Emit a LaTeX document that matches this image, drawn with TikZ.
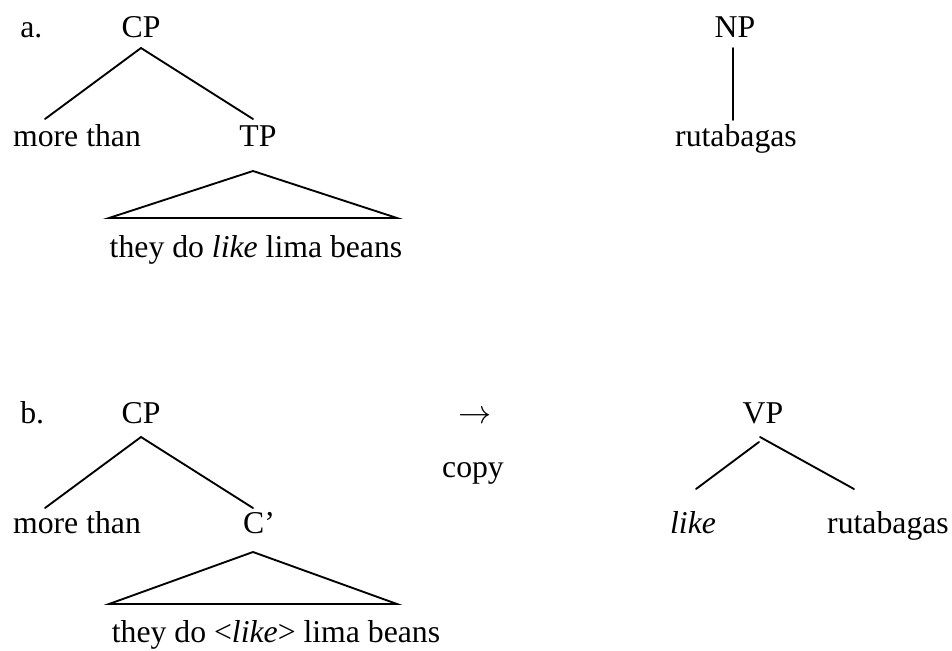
\documentclass[tikz,border=0pt]{standalone}
\usepackage{fontspec}
\setmainfont{Liberation Serif}
\usepackage{tikz}
\tikzset{
	wrd/.style={inner sep=0pt,anchor=base,font=\fontsize{23.8}{28}\selectfont},
	lbl/.style={inner sep=0pt,anchor=base west,font=\fontsize{23.8}{28}\selectfont},
	branch/.style={line width=1.4pt,line cap=round,line join=miter},
	}

\begin{document}
\begin{tikzpicture}[x=0.75pt,y=-0.75pt]
\useasboundingbox (0,0) rectangle (952,650);

% (a)
\node (la) at (20,37) [lbl] {a.};
\node (cpa) at (141,37) [wrd] {CP};
\node (mta) at (77,146) [wrd] {more than};
\node (tp) at (258,146) [wrd] {TP};
\node (sa) at (256,257) [wrd] {they do \textit{like} lima beans};
\node (np) at (735,37) [wrd] {NP};
\node (ruta) at (736,146) [wrd] {rutabagas};

\coordinate (cpaT) at (141,48);
\coordinate (mtaT) at (45,119);
\coordinate (tpT) at (253,119);
\coordinate (tpB) at (253,171);
\coordinate (saL) at (109,218);
\coordinate (saR) at (397,218);
\coordinate (npB) at (733,48);
\coordinate (rutaT) at (733,120);

\draw[branch] (mtaT) -- (cpaT) -- (tpT);
\draw[branch] (tpB) -- (saL) -- (saR) -- cycle;
\draw[branch] (npB) -- (rutaT);

% (b)
\node (lb) at (20,423) [lbl] {b.};
\node (cpb) at (141,423) [wrd] {CP};
\node (mtb) at (77,533) [wrd] {more than};
\node (cbar) at (259,533) [wrd] {C’};
\node (sb) at (276,642) [wrd] {they do <\textit{like}> lima beans};
\node (arr) at (475,423) [wrd] {$\rightarrow$};
\node (copy) at (473,477) [wrd] {copy};
\node (vp) at (763,423) [wrd] {VP};
\node (like) at (693,533) [wrd] {\textit{like}};
\node (rutb) at (888,533) [wrd] {rutabagas};

\coordinate (cpbT) at (141,437);
\coordinate (mtbT) at (45,508);
\coordinate (cbarT) at (253,508);
\coordinate (cbarB) at (253,552);
\coordinate (sbL) at (109,604);
\coordinate (sbR) at (397,604);
\coordinate (vpL) at (759,442);
\coordinate (vpR) at (760,437);
\coordinate (likeT) at (696,489);
\coordinate (rutbT) at (854,489);

\draw[branch] (mtbT) -- (cpbT) -- (cbarT);
\draw[branch] (cbarB) -- (sbL) -- (sbR) -- cycle;
\draw[branch] (vpL) -- (likeT);
\draw[branch] (vpR) -- (rutbT);
\end{tikzpicture}
\end{document}
